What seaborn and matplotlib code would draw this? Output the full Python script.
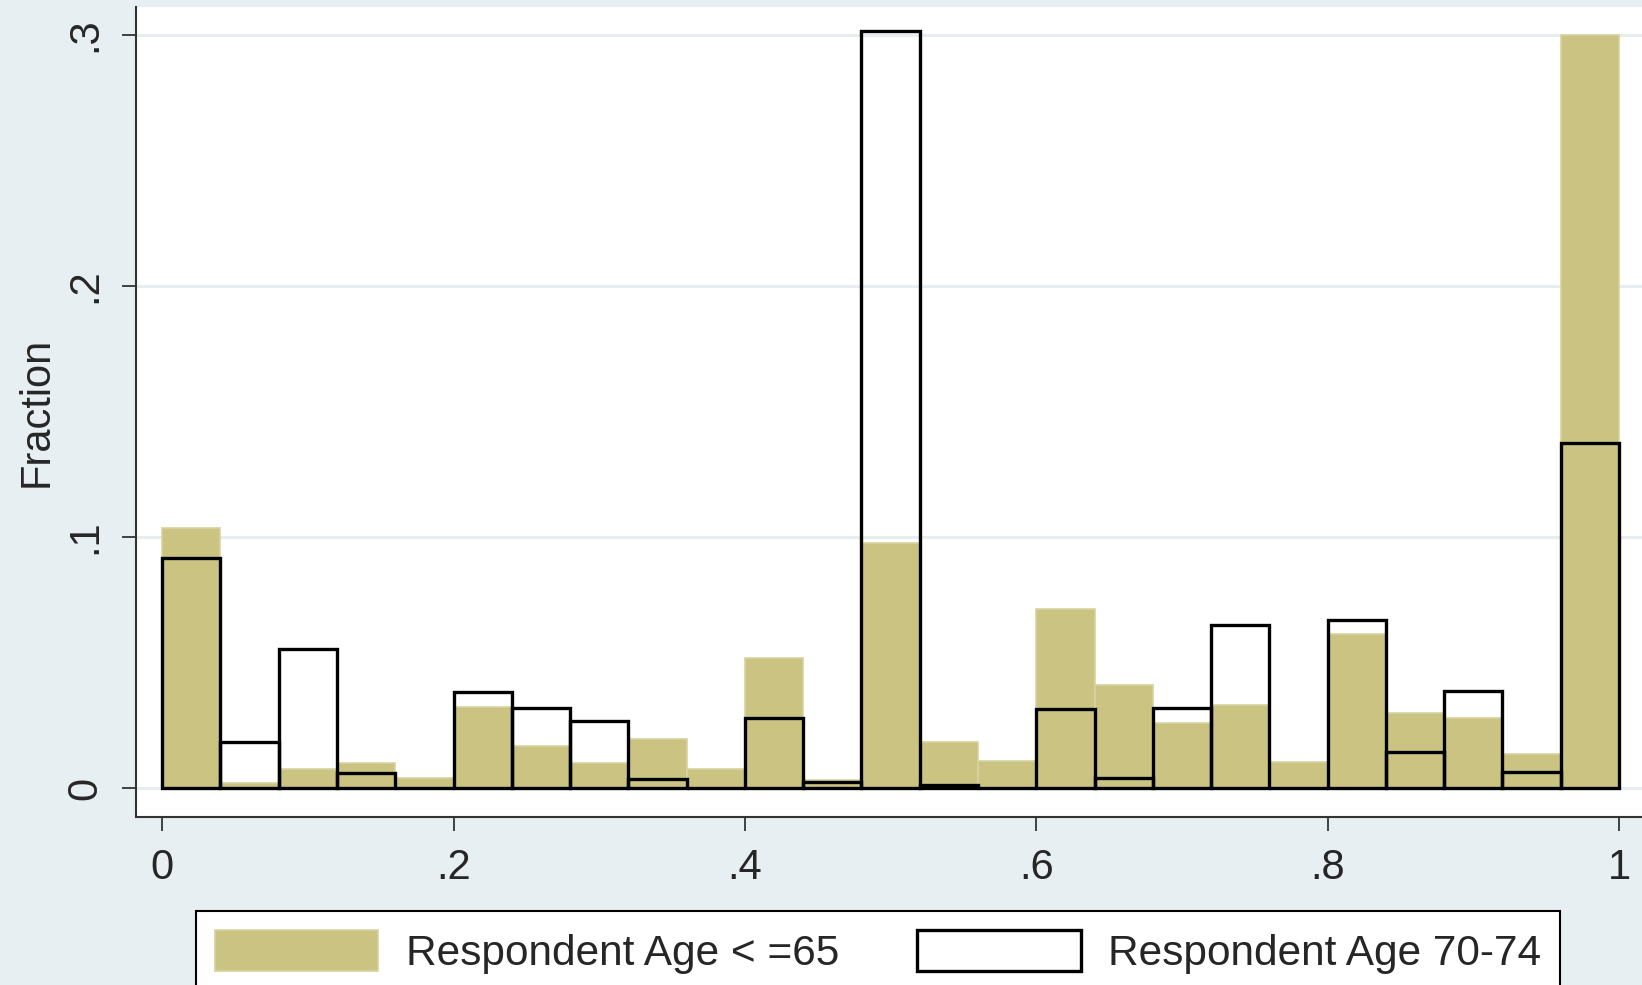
import numpy as np
import pandas as pd
import matplotlib
matplotlib.use("Agg")
import matplotlib.pyplot as plt
import seaborn as sns

# 25 bins of width .04 on [0, 1]
edges = [round(i * 0.04, 2) for i in range(26)]
frac_young = [0.1035, 0.002, 0.0075, 0.010, 0.0041, 0.0324, 0.0169, 0.0101, 0.0195,
              0.0075, 0.0517, 0.0032, 0.0976, 0.0182, 0.0109, 0.0714, 0.0411, 0.0257,
              0.033, 0.0102, 0.0613, 0.0297, 0.0277, 0.0136, 0.300]
frac_old = [0.0916, 0.0185, 0.0554, 0.0059, 0.0, 0.0382, 0.0319, 0.0266, 0.0037,
            0.0, 0.028, 0.0025, 0.3016, 0.0012, 0.0, 0.0314, 0.0039, 0.0319,
            0.0649, 0.0, 0.067, 0.0145, 0.0387, 0.0064, 0.1373]
labels = ["Respondent Age < =65", "Respondent Age 70-74"]
xticks = [0, 0.2, 0.4, 0.6, 0.8, 1.0]
xticklabels = ["0", ".2", ".4", ".6", ".8", "1"]
yticks = [0, 0.1, 0.2, 0.3]
yticklabels = ["0", ".1", ".2", ".3"]

centers = [(a + b) / 2 for a, b in zip(edges[:-1], edges[1:])]
df = pd.DataFrame({"x": centers, "young": frac_young, "old": frac_old})

sns.set_style("white")
plt.rcParams["font.family"] = ["Liberation Sans", "DejaVu Sans"]

bg = "#e8eff2"
khaki = "#cbc382"
fig = plt.figure(figsize=(16.42, 9.85), dpi=100, facecolor=bg)
ax = fig.add_axes([0.0828, 0.1706, 0.9172, 0.8223])
ax.set_facecolor("white")

for y in yticks:
    ax.axhline(y, color="#e6eef0", lw=2.2, zorder=0)

sns.histplot(data=df, x="x", weights="young", bins=edges, stat="count",
             color=khaki, alpha=1, edgecolor="#d8d2a0", linewidth=1.2,
             ax=ax, label=labels[0], zorder=2)
sns.histplot(data=df, x="x", weights="old", bins=edges, stat="count",
             fill=False, element="bars", color="black", linewidth=2.4,
             ax=ax, label=labels[1], zorder=3)

ax.set_xlim(-0.018, 1.0158)
ax.set_ylim(-0.01155, 0.3112)
ax.set_xticks(xticks)
ax.set_xticklabels(xticklabels, fontsize=30)
ax.set_yticks(yticks)
ax.set_yticklabels(yticklabels, fontsize=30, rotation=90, va="center")
ax.tick_params(axis="both", direction="out", length=10, width=1.3, color="#333333",
               bottom=True, left=True)
ax.tick_params(axis="x", pad=12)
ax.tick_params(axis="y", pad=12)
ax.set_xlabel("")
ax.set_ylabel("Fraction", fontsize=30, labelpad=6)

for s in ["top", "right"]:
    ax.spines[s].set_visible(False)
for s in ["left", "bottom"]:
    ax.spines[s].set_color("#333333")
    ax.spines[s].set_linewidth(1.5)

leg = ax.legend(loc="upper left", bbox_to_anchor=(196 / 1642, 1 - 911 / 985),
                bbox_transform=fig.transFigure, ncol=2, fontsize=30.5,
                handlelength=3.85, handleheight=1.1, handletextpad=0.65,
                columnspacing=1.85, borderpad=0.45, borderaxespad=0,
                fancybox=False, framealpha=1, edgecolor="black")
leg.get_frame().set_linewidth(1.5)

fig.savefig("out.png", dpi=100, facecolor=bg)
